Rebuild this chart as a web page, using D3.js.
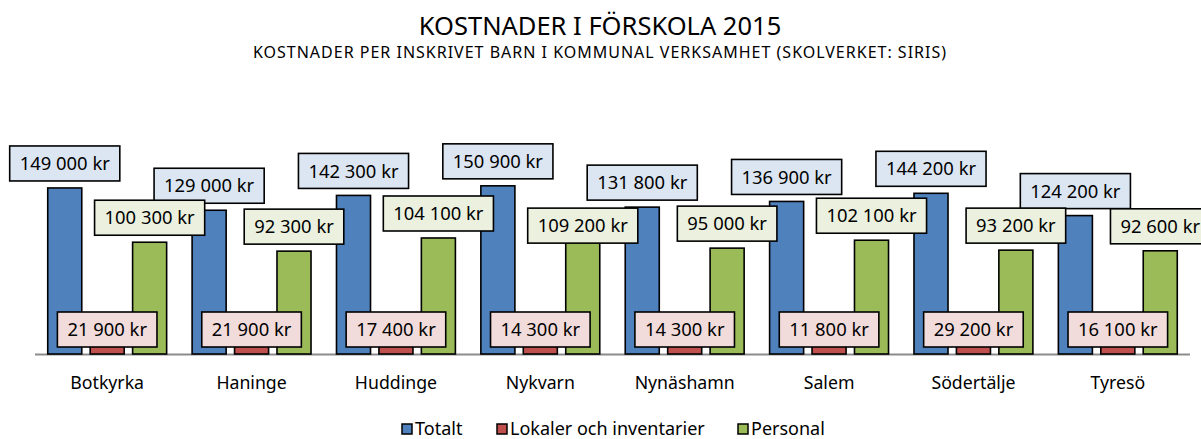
<!DOCTYPE html>
<html>
<head>
<meta charset="utf-8">
<script src="https://cdn.jsdelivr.net/npm/d3@7"></script>
<style>
  body { margin: 0; background: #fff; }
  svg { display: block; font-family: "Noto Sans", sans-serif; }
</style>
</head>
<body>
<svg width="1201" height="439"></svg>
<script>
// data
const kommuner = ['Botkyrka', 'Haninge', 'Huddinge', 'Nykvarn', 'Nynäshamn', 'Salem', 'Södertälje', 'Tyresö'];
const totalt = [149000, 129000, 142300, 150900, 131800, 136900, 144200, 124200];
const lokaler = [21900, 21900, 17400, 14300, 14300, 11800, 29200, 16100];
const personal = [100300, 92300, 104100, 109200, 95000, 102100, 93200, 92600];
const serier = ['Totalt', 'Lokaler och inventarier', 'Personal'];

const fyllning = ['#4f81bd', '#c0504d', '#9bbb59'];
const etikettFarg = ['#dce6f2', '#f2dcdb', '#ebf1de'];

const svg = d3.select('svg');
const base = 354;

const x = d3.scaleBand().domain(kommuner).range([35, 1190]);
const xs = d3.scaleBand().domain(serier).range([0, x.bandwidth()]).paddingInner(0.198).paddingOuter(0.3);
const y = d3.scaleLinear().domain([0, 160000]).range([base, base - 178.3]);

const fmt = v => d3.format(',')(v).replace(/,/g, ' ') + ' kr';

// rows for drawing, series by series (labels of later series end up on top)
const rader = [];
[totalt, lokaler, personal].forEach((arr, s) => {
  kommuner.forEach((k, i) => {
    rader.push({ k: k, i: i, s: s, v: arr[i] });
  });
});

// title
svg.append('text').attr('x', 600).attr('y', 35).attr('text-anchor', 'middle')
  .style('font-size', '25.5px').attr('fill', '#000').text('KOSTNADER I FÖRSKOLA 2015');
svg.append('text').attr('x', 600).attr('y', 58).attr('text-anchor', 'middle')
  .style('font-size', '16px').style('letter-spacing', '1px').attr('fill', '#000')
  .text('KOSTNADER PER INSKRIVET BARN I KOMMUNAL VERKSAMHET (SKOLVERKET: SIRIS)');

// axis line
svg.append('line').attr('x1', 35).attr('x2', 1190).attr('y1', base + 0.5).attr('y2', base + 0.5)
  .attr('stroke', '#8c8c8c').attr('stroke-width', 2);

// bars
svg.append('g').selectAll('rect').data(rader).enter().append('rect')
  .attr('x', d => x(d.k) + xs(serier[d.s]))
  .attr('y', d => y(d.v))
  .attr('width', xs.bandwidth())
  .attr('height', d => base - y(d.v))
  .attr('fill', d => fyllning[d.s])
  .attr('stroke', '#000').attr('stroke-width', 1.6);

// data labels
const etiketter = svg.append('g').selectAll('g').data(rader).enter().append('g');
etiketter.append('text').attr('text-anchor', 'middle').attr('dy', '0.36em')
  .style('font-size', '18.4px').attr('fill', '#000').text(d => fmt(d.v));
etiketter.each(function(d) {
  d.w = d3.select(this).select('text').node().getComputedTextLength() + 20;
  d.cx = x(d.k) + xs(serier[d.s]) + xs.bandwidth() / 2;
  d.cy = d.s === 1 ? 329.5 : y(d.v) - 24.5;
});
// push a Personal label down if it clearly hits the next Totalt label
rader.filter(d => d.s === 2 && d.i < kommuner.length - 1).forEach(d => {
  const n = rader.find(r => r.i === d.i + 1 && r.s === 0);
  const hor = d.cx + d.w / 2 > n.cx - n.w / 2;
  const ver = Math.abs(d.cy - n.cy) < 29;
  if (hor && ver) d.cy = n.cy + 43;
});
etiketter.attr('transform', d => 'translate(' + d.cx + ',' + d.cy + ')');
etiketter.insert('rect', 'text').attr('x', d => -d.w / 2).attr('y', -17.5)
  .attr('width', d => d.w).attr('height', 35)
  .attr('fill', d => etikettFarg[d.s]).attr('stroke', '#000').attr('stroke-width', 1.6);

// category axis labels
svg.append('g').selectAll('text').data(kommuner).enter().append('text')
  .attr('x', d => x(d) + x.bandwidth() / 2).attr('y', 389).attr('text-anchor', 'middle')
  .style('font-size', '17.7px').attr('fill', '#000').text(d => d);

// legend
const legPos = [402, 497, 738];
const leg = svg.append('g').selectAll('g').data(serier).enter().append('g')
  .attr('transform', (d, i) => 'translate(' + legPos[i] + ',424)');
leg.append('rect').attr('width', 10).attr('height', 10)
  .attr('fill', (d, i) => fyllning[i]).attr('stroke', '#000').attr('stroke-width', 1.5);
leg.append('text').attr('x', 13).attr('y', 11).style('font-size', '18px').attr('fill', '#000').text(d => d);
</script>
</body>
</html>
